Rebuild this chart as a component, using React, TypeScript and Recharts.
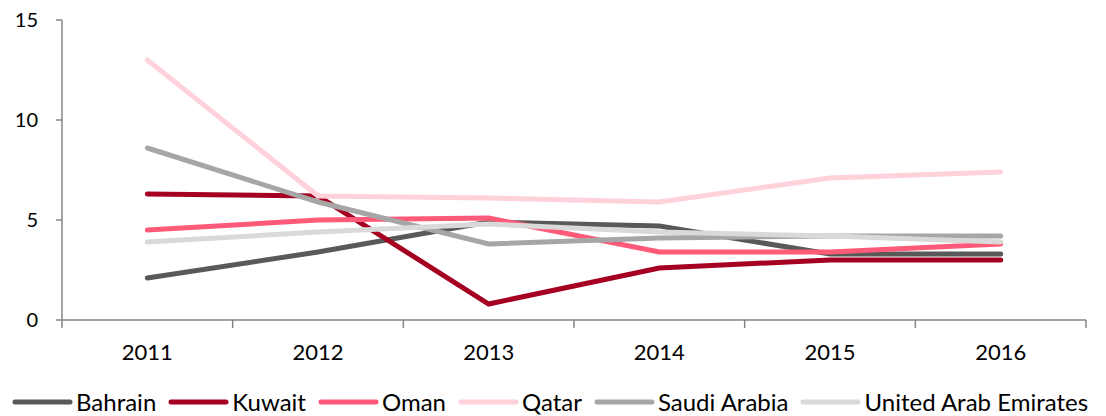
import React from "react";
import { LineChart, Line, XAxis, YAxis, Legend } from "recharts";

const years = ["2011", "2012", "2013", "2014", "2015", "2016"];

const bahrain = [2.1, 3.4, 4.9, 4.7, 3.3, 3.3];
const kuwait = [6.3, 6.2, 0.8, 2.6, 3.0, 3.0];
const oman = [4.5, 5.0, 5.1, 3.4, 3.4, 3.8];
const qatar = [13.0, 6.2, 6.1, 5.9, 7.1, 7.4];
const saudiArabia = [8.6, 5.9, 3.8, 4.1, 4.2, 4.2];
const uae = [3.9, 4.4, 4.8, 4.4, 4.2, 3.9];

const yTicks = [0, 5, 10, 15];

const series = [
  { key: "bahrain", name: "Bahrain", color: "#595959", values: bahrain },
  { key: "kuwait", name: "Kuwait", color: "#A50021", values: kuwait },
  { key: "oman", name: "Oman", color: "#FF5A78", values: oman },
  { key: "qatar", name: "Qatar", color: "#FFD1DA", values: qatar },
  { key: "saudi", name: "Saudi Arabia", color: "#A6A6A6", values: saudiArabia },
  { key: "uae", name: "United Arab Emirates", color: "#D9D9D9", values: uae },
];

const data = years.map((year, i) => {
  const row: Record<string, string | number> = { year };
  series.forEach((s) => {
    row[s.key] = s.values[i];
  });
  return row;
});

const W = 1106;
const H = 416;
const M = { top: 20, right: 20, left: 0, bottom: 0 };
const Y_AXIS_W = 62;
const BAND = (W - M.left - M.right - Y_AXIS_W) / years.length;
const FONT = "Lato, sans-serif";
const AXIS_COLOR = "#868686";

// year labels centred in each band, tick marks on the band edges
function YearTick(props: any) {
  const { x, y, payload, index } = props;
  const isLast = index === years.length - 1;
  return (
    <g>
      <line x1={x - BAND / 2} y1={y - 8} x2={x - BAND / 2} y2={y} stroke={AXIS_COLOR} strokeWidth={1.5} />
      {isLast && (
        <line x1={x + BAND / 2} y1={y - 8} x2={x + BAND / 2} y2={y} stroke={AXIS_COLOR} strokeWidth={1.5} />
      )}
      <text x={x} y={y + 32} textAnchor="middle" fill="#000" fontSize={22} fontFamily={FONT}>
        {payload.value}
      </text>
    </g>
  );
}

function LegendRow() {
  return (
    <div
      style={{
        display: "flex",
        alignItems: "center",
        height: 34,
        paddingLeft: 12,
        transform: "translateY(3px)",
        fontFamily: FONT,
        fontSize: 24,
        lineHeight: "28px",
        color: "#000",
        whiteSpace: "nowrap",
      }}
    >
      {series.map((s) => (
        <div key={s.key} style={{ display: "flex", alignItems: "center", marginRight: 12 }}>
          <svg width={61} height={8} style={{ marginRight: 3 }}>
            <line x1={3} y1={4} x2={58} y2={4} stroke={s.color} strokeWidth={5} strokeLinecap="round" />
          </svg>
          <span>{s.name}</span>
        </div>
      ))}
    </div>
  );
}

export default function App() {
  return (
    <div style={{ position: "absolute", left: 0, top: 0, width: W, height: H, background: "#fff" }}>
      <LineChart width={W} height={H} data={data} margin={M}>
        <XAxis
          dataKey="year"
          scale="band"
          stroke={AXIS_COLOR}
          strokeWidth={1.5}
          tickLine={false}
          tick={<YearTick />}
          height={62}
          interval={0}
        />
        <YAxis
          domain={[0, 15]}
          ticks={yTicks}
          width={Y_AXIS_W}
          stroke={AXIS_COLOR}
          strokeWidth={1.5}
          tickSize={6}
          tick={{ fill: "#000", fontSize: 20, fontFamily: FONT }}
          tickMargin={18}
        />
        <Legend verticalAlign="bottom" height={34} content={<LegendRow />} />
        {series.map((s) => (
          <Line
            key={s.key}
            dataKey={s.key}
            name={s.name}
            stroke={s.color}
            strokeWidth={5}
            dot={false}
            activeDot={false}
            strokeLinecap="round"
            isAnimationActive={false}
          />
        ))}
      </LineChart>
    </div>
  );
}
